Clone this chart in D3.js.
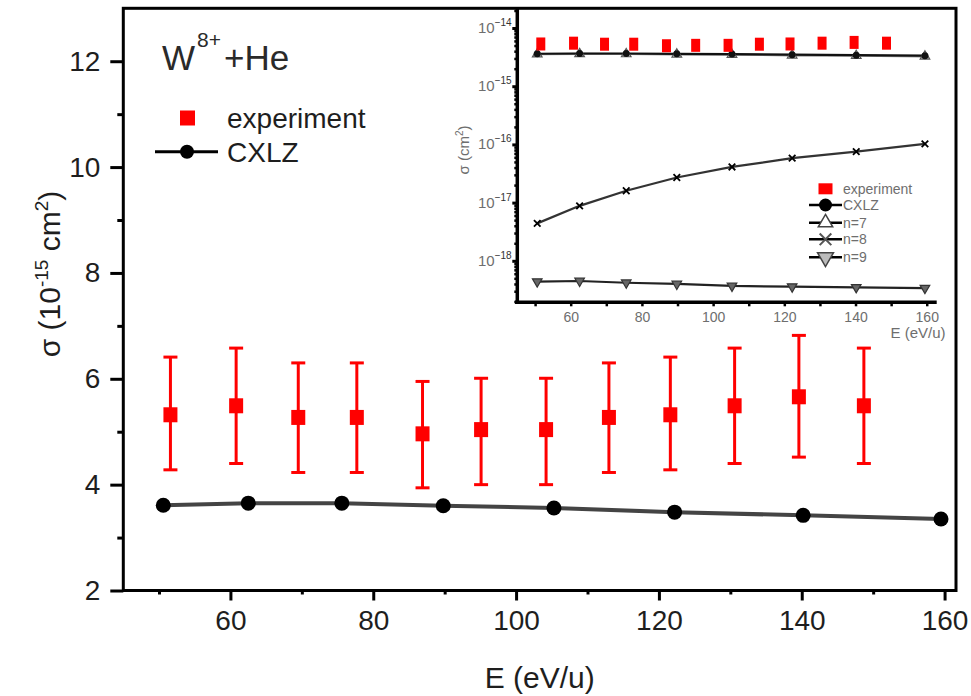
<!DOCTYPE html>
<html><head><meta charset="utf-8">
<script src="https://cdn.jsdelivr.net/npm/d3@7"></script>
<style>
body{margin:0;background:#fff}
svg{display:block;font-family:"Liberation Sans",Arial,sans-serif}
</style></head><body>
<svg id="c" width="971" height="696"></svg>
<script>
// ---------- data ----------
const expEnergy = [51.6, 60.8, 69.5, 77.7, 86.9, 95.1, 104.2, 113.0, 121.6, 130.6, 139.6, 148.7];
const expSigma  = [5.32, 5.49, 5.27, 5.27, 4.96, 5.04, 5.04, 5.27, 5.32, 5.49, 5.66, 5.49];
const expUpper  = [6.41, 6.58, 6.30, 6.30, 5.95, 6.01, 6.01, 6.30, 6.41, 6.58, 6.82, 6.58];
const expLower  = [4.28, 4.40, 4.23, 4.23, 3.94, 4.00, 4.00, 4.23, 4.28, 4.40, 4.52, 4.40];
const thEnergy  = [50.6, 62.5, 75.6, 89.8, 105.3, 122.2, 140.2, 159.5];
const cxlzSigma = [3.61, 3.65, 3.65, 3.60, 3.56, 3.48, 3.42, 3.35];          // 10^-15 cm^2
const n7Sigma   = [3.55e-15, 3.59e-15, 3.58e-15, 3.53e-15, 3.48e-15, 3.40e-15, 3.34e-15, 3.26e-15];
const n8Sigma   = [4.4e-18, 8.8e-18, 1.6e-17, 2.7e-17, 4.1e-17, 5.8e-17, 7.5e-17, 1.02e-16];
const n9Sigma   = [4.4e-19, 4.5e-19, 4.2e-19, 4.0e-19, 3.7e-19, 3.6e-19, 3.5e-19, 3.4e-19];
const xMajorTicks = [60, 80, 100, 120, 140, 160];
const xMinorTicks = [50, 70, 90, 110, 130, 150];
const yMajorTicks = [2, 4, 6, 8, 10, 12];
const yMinorTicks = [3, 5, 7, 9, 11];
const insetXTicks = [50, 60, 70, 80, 90, 100, 110, 120, 130, 140, 150, 160];
const insetXLabels = [60, 80, 100, 120, 140, 160];
const insetYDecades = [-18, -17, -16, -15, -14];
const insetLegend = ["experiment", "CXLZ", "n=7", "n=8", "n=9"];

const svg = d3.select("#c");
const RED = "#ff0000";
const TXT = "#1e1e1e";

// ---------- main scales ----------
const x = d3.scaleLinear().domain([45, 161.6]).range([123.3, 956]);
const y = d3.scaleLinear().domain([2, 13]).range([590.5, 8.3]);

// axes
const gx = svg.append("g").attr("transform", `translate(0,${y(2)})`)
  .call(d3.axisBottom(x).tickValues(xMajorTicks).tickSize(10).tickPadding(10).tickSizeOuter(0).tickFormat(d3.format("d")));
const gxm = svg.append("g").attr("transform", `translate(0,${y(2)})`)
  .call(d3.axisBottom(x).tickValues(xMinorTicks).tickSize(4).tickSizeOuter(0).tickFormat(""));
const gy = svg.append("g").attr("transform", `translate(${x(45)},0)`)
  .call(d3.axisLeft(y).tickValues(yMajorTicks).tickSize(13).tickPadding(10).tickSizeOuter(0).tickFormat(d3.format("d")));
const gym = svg.append("g").attr("transform", `translate(${x(45)},0)`)
  .call(d3.axisLeft(y).tickValues(yMinorTicks).tickSize(6).tickSizeOuter(0).tickFormat(""));
[gx, gxm, gy, gym].forEach(g => {
  g.select(".domain").remove();
  g.selectAll(".tick line").attr("stroke", "#000").attr("stroke-width", 3);
  g.selectAll(".tick text").attr("font-size", 28).attr("fill", TXT).attr("font-family", "Liberation Sans, Arial, sans-serif");
});

// frame
svg.append("rect").attr("x", x(45)).attr("y", y(13))
  .attr("width", x(161.6) - x(45)).attr("height", y(2) - y(13))
  .attr("fill", "none").attr("stroke", "#000").attr("stroke-width", 3);

// axis titles
svg.append("text").attr("x", (x(45) + x(161.6)) / 2).attr("y", 688)
  .attr("text-anchor", "middle").attr("font-size", 30).attr("fill", TXT).text("E (eV/u)");
const yl = svg.append("text").attr("transform", "translate(60,274) rotate(-90)")
  .attr("text-anchor", "middle").attr("font-size", 30).attr("fill", TXT);
yl.append("tspan").text("σ (10");
yl.append("tspan").attr("font-size", 19).attr("dy", -12).text("-15");
yl.append("tspan").attr("dy", 12).text(" cm");
yl.append("tspan").attr("font-size", 19).attr("dy", -12).text("2");
yl.append("tspan").attr("dy", 12).text(")");

// title
const tt = svg.append("text").attr("x", 162).attr("y", 70).attr("font-size", 35).attr("fill", "#2a2a2a");
tt.append("tspan").text("W");
tt.append("tspan").attr("font-size", 21).attr("dy", -23).attr("dx", 2).text("8+");
tt.append("tspan").attr("dy", 23).attr("dx", 3).text("+He");

// CXLZ line + markers
const line = d3.line().x(d => x(d[0])).y(d => y(d[1]));
const cx = thEnergy.map((e, i) => [e, cxlzSigma[i]]);
svg.append("path").datum(cx).attr("d", line).attr("fill", "none").attr("stroke", "#444").attr("stroke-width", 4);
svg.selectAll("circle.cx").data(cx).join("circle").attr("class", "cx")
  .attr("cx", d => x(d[0])).attr("cy", d => y(d[1])).attr("r", 7.5).attr("fill", "#000");

// experiment with error bars
const ex = expEnergy.map((e, i) => ({e, s: expSigma[i], hi: expUpper[i], lo: expLower[i]}));
const eg = svg.append("g").attr("stroke", RED).attr("stroke-width", 3);
ex.forEach(d => {
  eg.append("line").attr("x1", x(d.e)).attr("x2", x(d.e)).attr("y1", y(d.hi)).attr("y2", y(d.lo));
  eg.append("line").attr("x1", x(d.e) - 7).attr("x2", x(d.e) + 7).attr("y1", y(d.hi)).attr("y2", y(d.hi));
  eg.append("line").attr("x1", x(d.e) - 7).attr("x2", x(d.e) + 7).attr("y1", y(d.lo)).attr("y2", y(d.lo));
});
svg.selectAll("rect.ex").data(ex).join("rect").attr("class", "ex")
  .attr("x", d => x(d.e) - 7).attr("y", d => y(d.s) - 7.5).attr("width", 14).attr("height", 15).attr("fill", RED);

// main legend
svg.append("rect").attr("x", 180).attr("y", 110.5).attr("width", 15).attr("height", 15).attr("fill", RED);
svg.append("text").attr("x", 227).attr("y", 128).attr("font-size", 28).attr("fill", TXT).text("experiment");
svg.append("line").attr("x1", 155).attr("x2", 218).attr("y1", 151.7).attr("y2", 151.7).attr("stroke", "#000").attr("stroke-width", 3);
svg.append("circle").attr("cx", 187).attr("cy", 151.7).attr("r", 7).attr("fill", "#000");
svg.append("text").attr("x", 227).attr("y", 162).attr("font-size", 28).attr("fill", TXT).text("CXLZ");

// ---------- inset ----------
const ix = d3.scaleLinear().domain([45, 162.8]).range([517.3, 936.7]);
const iy = d3.scaleLog().domain([Math.pow(10, -18.713), Math.pow(10, -13.656)]).range([302.3, 8]);
const IT = "#6e6e6e";

// inset x axis
const igx = svg.append("g").attr("transform", "translate(0,302.3)")
  .call(d3.axisBottom(ix).tickValues(insetXTicks).tickSize(4).tickPadding(6).tickSizeOuter(0)
    .tickFormat(d => insetXLabels.includes(d) ? d : ""));
igx.select(".domain").remove();
igx.selectAll(".tick line").attr("stroke", "#000").attr("stroke-width", 2.5);
igx.selectAll(".tick text").attr("font-size", 14).attr("fill", IT);
svg.append("line").attr("x1", 515).attr("x2", 936.7).attr("y1", 302.3).attr("y2", 302.3).attr("stroke", "#000").attr("stroke-width", 3.5);

// inset y axis (log)
const minorVals = [];
for (let dec = -19; dec <= -14; dec++) for (let m = 2; m <= 9; m++) {
  const v = m * Math.pow(10, dec);
  if (v > iy.domain()[0] && v < iy.domain()[1]) minorVals.push(v);
}
const igym = svg.append("g").attr("transform", "translate(517.3,0)")
  .call(d3.axisLeft(iy).tickValues(minorVals).tickSize(3).tickSizeOuter(0).tickFormat(""));
igym.select(".domain").remove();
igym.selectAll(".tick line").attr("stroke", "#000").attr("stroke-width", 2.5);
const igy = svg.append("g").attr("transform", "translate(517.3,0)")
  .call(d3.axisLeft(iy).tickValues(insetYDecades.map(d => Math.pow(10, d))).tickSize(5).tickSizeOuter(0).tickFormat(""));
igy.select(".domain").remove();
igy.selectAll(".tick line").attr("stroke", "#000").attr("stroke-width", 3);
insetYDecades.forEach(d => {
  const t = svg.append("text").attr("x", 478).attr("y", iy(Math.pow(10, d)) + 5).attr("font-size", 15).attr("fill", IT);
  t.append("tspan").text("10");
  t.append("tspan").attr("font-size", 10).attr("dy", -7).attr("fill", "#333").text(String(d).replace("-", "−"));
});
svg.append("line").attr("x1", 517.3).attr("x2", 517.3).attr("y1", 8).attr("y2", 304).attr("stroke", "#000").attr("stroke-width", 3.5);

// inset axis labels
const iyl = svg.append("text").attr("transform", "translate(469,150) rotate(-90)")
  .attr("text-anchor", "middle").attr("font-size", 15).attr("fill", IT);
iyl.append("tspan").text("σ (cm");
iyl.append("tspan").attr("font-size", 10).attr("dy", -6).text("2");
iyl.append("tspan").attr("dy", 6).text(")");
svg.append("text").attr("x", 918).attr("y", 338).attr("text-anchor", "middle").attr("font-size", 15).attr("fill", IT).text("E (eV/u)");

// inset series
const iline = d3.line().x(d => ix(d[0])).y(d => iy(d[1]));
const tot = thEnergy.map((e, i) => [e, cxlzSigma[i] * 1e-15]);
const s7 = thEnergy.map((e, i) => [e, n7Sigma[i]]);
const s8 = thEnergy.map((e, i) => [e, n8Sigma[i]]);
const s9 = thEnergy.map((e, i) => [e, n9Sigma[i]]);
[[s7, "#888"], [tot, "#111"], [s8, "#333"], [s9, "#222"]].forEach(([s, c]) => {
  svg.append("path").datum(s).attr("d", iline).attr("fill", "none").attr("stroke", c).attr("stroke-width", 2.2);
});
const sym = (type, size) => d3.symbol().type(type).size(size)();
svg.selectAll("path.s7").data(s7).join("path").attr("class", "s7")
  .attr("transform", d => `translate(${ix(d[0])},${iy(d[1])})`).attr("d", sym(d3.symbolTriangle, 40))
  .attr("fill", "#fff").attr("stroke", "#555").attr("stroke-width", 1.2);
svg.selectAll("circle.tot").data(tot).join("circle").attr("class", "tot")
  .attr("cx", d => ix(d[0])).attr("cy", d => iy(d[1])).attr("r", 3.5).attr("fill", "#111");
svg.selectAll("path.s8").data(s8).join("path").attr("class", "s8")
  .attr("transform", d => `translate(${ix(d[0])},${iy(d[1])})`).attr("d", sym(d3.symbolX, 30))
  .attr("fill", "none").attr("stroke", "#000").attr("stroke-width", 1.8);
svg.selectAll("path.s9").data(s9).join("path").attr("class", "s9")
  .attr("transform", d => `translate(${ix(d[0])},${iy(d[1])}) rotate(180)`).attr("d", sym(d3.symbolTriangle, 40))
  .attr("fill", "#666").attr("stroke", "#333").attr("stroke-width", 1.2);
svg.selectAll("rect.iex").data(ex).join("rect").attr("class", "iex")
  .attr("x", d => ix(d.e) - 4.5).attr("y", d => iy(d.s * 1e-15) - 6.5).attr("width", 9).attr("height", 13).attr("fill", RED);

// inset legend
const lgY = [188.8, 205, 222.7, 239.3, 257.3];
svg.append("rect").attr("x", 818.5).attr("y", lgY[0] - 5.5).attr("width", 14).attr("height", 11).attr("fill", RED);
for (let i = 1; i < 5; i++) {
  svg.append("line").attr("x1", 809).attr("x2", 842).attr("y1", lgY[i]).attr("y2", lgY[i]).attr("stroke", "#000").attr("stroke-width", 2.5);
}
svg.append("circle").attr("cx", 825.5).attr("cy", lgY[1]).attr("r", 6.5).attr("fill", "#000");
svg.append("path").attr("transform", `translate(825.5,${lgY[2]})`).attr("d", sym(d3.symbolTriangle, 90))
  .attr("fill", "#fff").attr("stroke", "#444").attr("stroke-width", 1.5);
svg.append("path").attr("transform", `translate(825.5,${lgY[3]})`).attr("d", sym(d3.symbolX, 90))
  .attr("fill", "none").attr("stroke", "#555").attr("stroke-width", 2);
svg.append("path").attr("transform", `translate(825.5,${lgY[4]}) rotate(180)`).attr("d", sym(d3.symbolTriangle, 110))
  .attr("fill", "#bbb").attr("stroke", "#444").attr("stroke-width", 1.5);
insetLegend.forEach((t, i) => {
  svg.append("text").attr("x", 843).attr("y", lgY[i] + 5).attr("font-size", 14).attr("fill", IT).text(t);
});
</script>
</body></html>
